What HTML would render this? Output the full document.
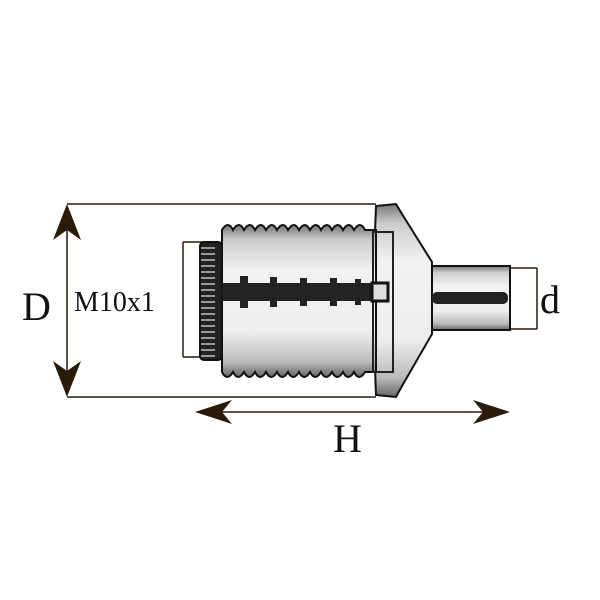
<!DOCTYPE html>
<html><head><style>body{margin:0;background:#fff}svg{display:block}</style></head><body>
<svg width="600" height="600" viewBox="0 0 600 600" xmlns="http://www.w3.org/2000/svg">
<defs>
<linearGradient id="g" x1="0" y1="0" x2="0" y2="1">
<stop offset="0" stop-color="#777"/><stop offset="0.1" stop-color="#ccc"/><stop offset="0.3" stop-color="#f2f2f2"/><stop offset="0.7" stop-color="#eee"/><stop offset="0.9" stop-color="#bbb"/><stop offset="1" stop-color="#666"/>
</linearGradient>
<pattern id="k" width="22" height="6" patternUnits="userSpaceOnUse"><rect width="22" height="6" fill="#222"/><rect x="3" y="1" width="14" height="2" fill="#999"/></pattern>
</defs>
<g stroke="#2a1a0a" stroke-width="1.5" fill="none">
<line x1="67" y1="204" x2="376" y2="204"/>
<line x1="67" y1="397" x2="376" y2="397"/>
<line x1="67" y1="212" x2="67" y2="389"/>
<line x1="183" y1="242" x2="183" y2="357"/>
<line x1="183" y1="242" x2="206" y2="242"/>
<line x1="183" y1="357" x2="206" y2="357"/>
<line x1="537" y1="268" x2="537" y2="329"/>
<line x1="510" y1="268" x2="537" y2="268"/>
<line x1="510" y1="329" x2="537" y2="329"/>
<line x1="205" y1="412" x2="500" y2="412"/>
</g>
<g fill="#2a1a0a">
<path d="M67,204 L53,240 L67,230 L81,240Z"/>
<path d="M67,397 L53,361 L67,371 L81,361Z"/>
<path d="M195,412 L232,400 L222,412 L232,424Z"/>
<path d="M510,412 L473,400 L483,412 L473,424Z"/>
</g>
<g stroke="#111" stroke-width="2">
<path d="M432,266 L510,266 L510,330 L432,330Z" fill="url(#g)"/>
<path d="M376,206 L396,204 L402,214 L432,262 L432,334 L402,386 L396,397 L376,395 Q372,300 376,206Z" fill="url(#g)"/>
<path d="M222,230 q6,-10 11,0 q6,-10 11,0 q6,-10 11,0 q6,-10 11,0 q6,-10 11,0 q6,-10 11,0 q6,-10 11,0 q6,-10 11,0 q6,-10 11,0 q6,-10 11,0 q6,-10 11,0 q6,-10 11,0 q6,-10 11,0 L376,230 L376,372 L365,372 q-6,10 -11,0 q-6,10 -11,0 q-6,10 -11,0 q-6,10 -11,0 q-6,10 -11,0 q-6,10 -11,0 q-6,10 -11,0 q-6,10 -11,0 q-6,10 -11,0 q-6,10 -11,0 q-6,10 -11,0 q-6,10 -11,0 q-6,10 -11,0 Z" fill="url(#g)"/>
<rect x="200" y="242" width="22" height="118" rx="4" fill="url(#k)"/>
</g>
<rect x="373" y="232" width="20" height="140" fill="none" stroke="#222" stroke-width="2"/>
<path d="M222,283 h150 v18 h-150Z" fill="#222"/>
<g fill="#222"><rect x="240" y="276" width="8" height="32"/><rect x="270" y="277" width="7" height="30"/><rect x="300" y="278" width="7" height="28"/><rect x="330" y="278" width="7" height="28"/><rect x="355" y="279" width="6" height="26"/></g>
<rect x="372" y="283" width="16" height="18" fill="#ddd" stroke="#111" stroke-width="3"/>
<rect x="432" y="292" width="76" height="12" rx="5" fill="#222"/>
<g font-family="Liberation Serif, serif" fill="#111">
<text x="22" y="320" font-size="40">D</text>
<text x="74" y="311" font-size="28">M10x1</text>
<text x="540" y="313" font-size="40">d</text>
<text x="333" y="452" font-size="40">H</text>
</g>
</svg>
</body></html>
